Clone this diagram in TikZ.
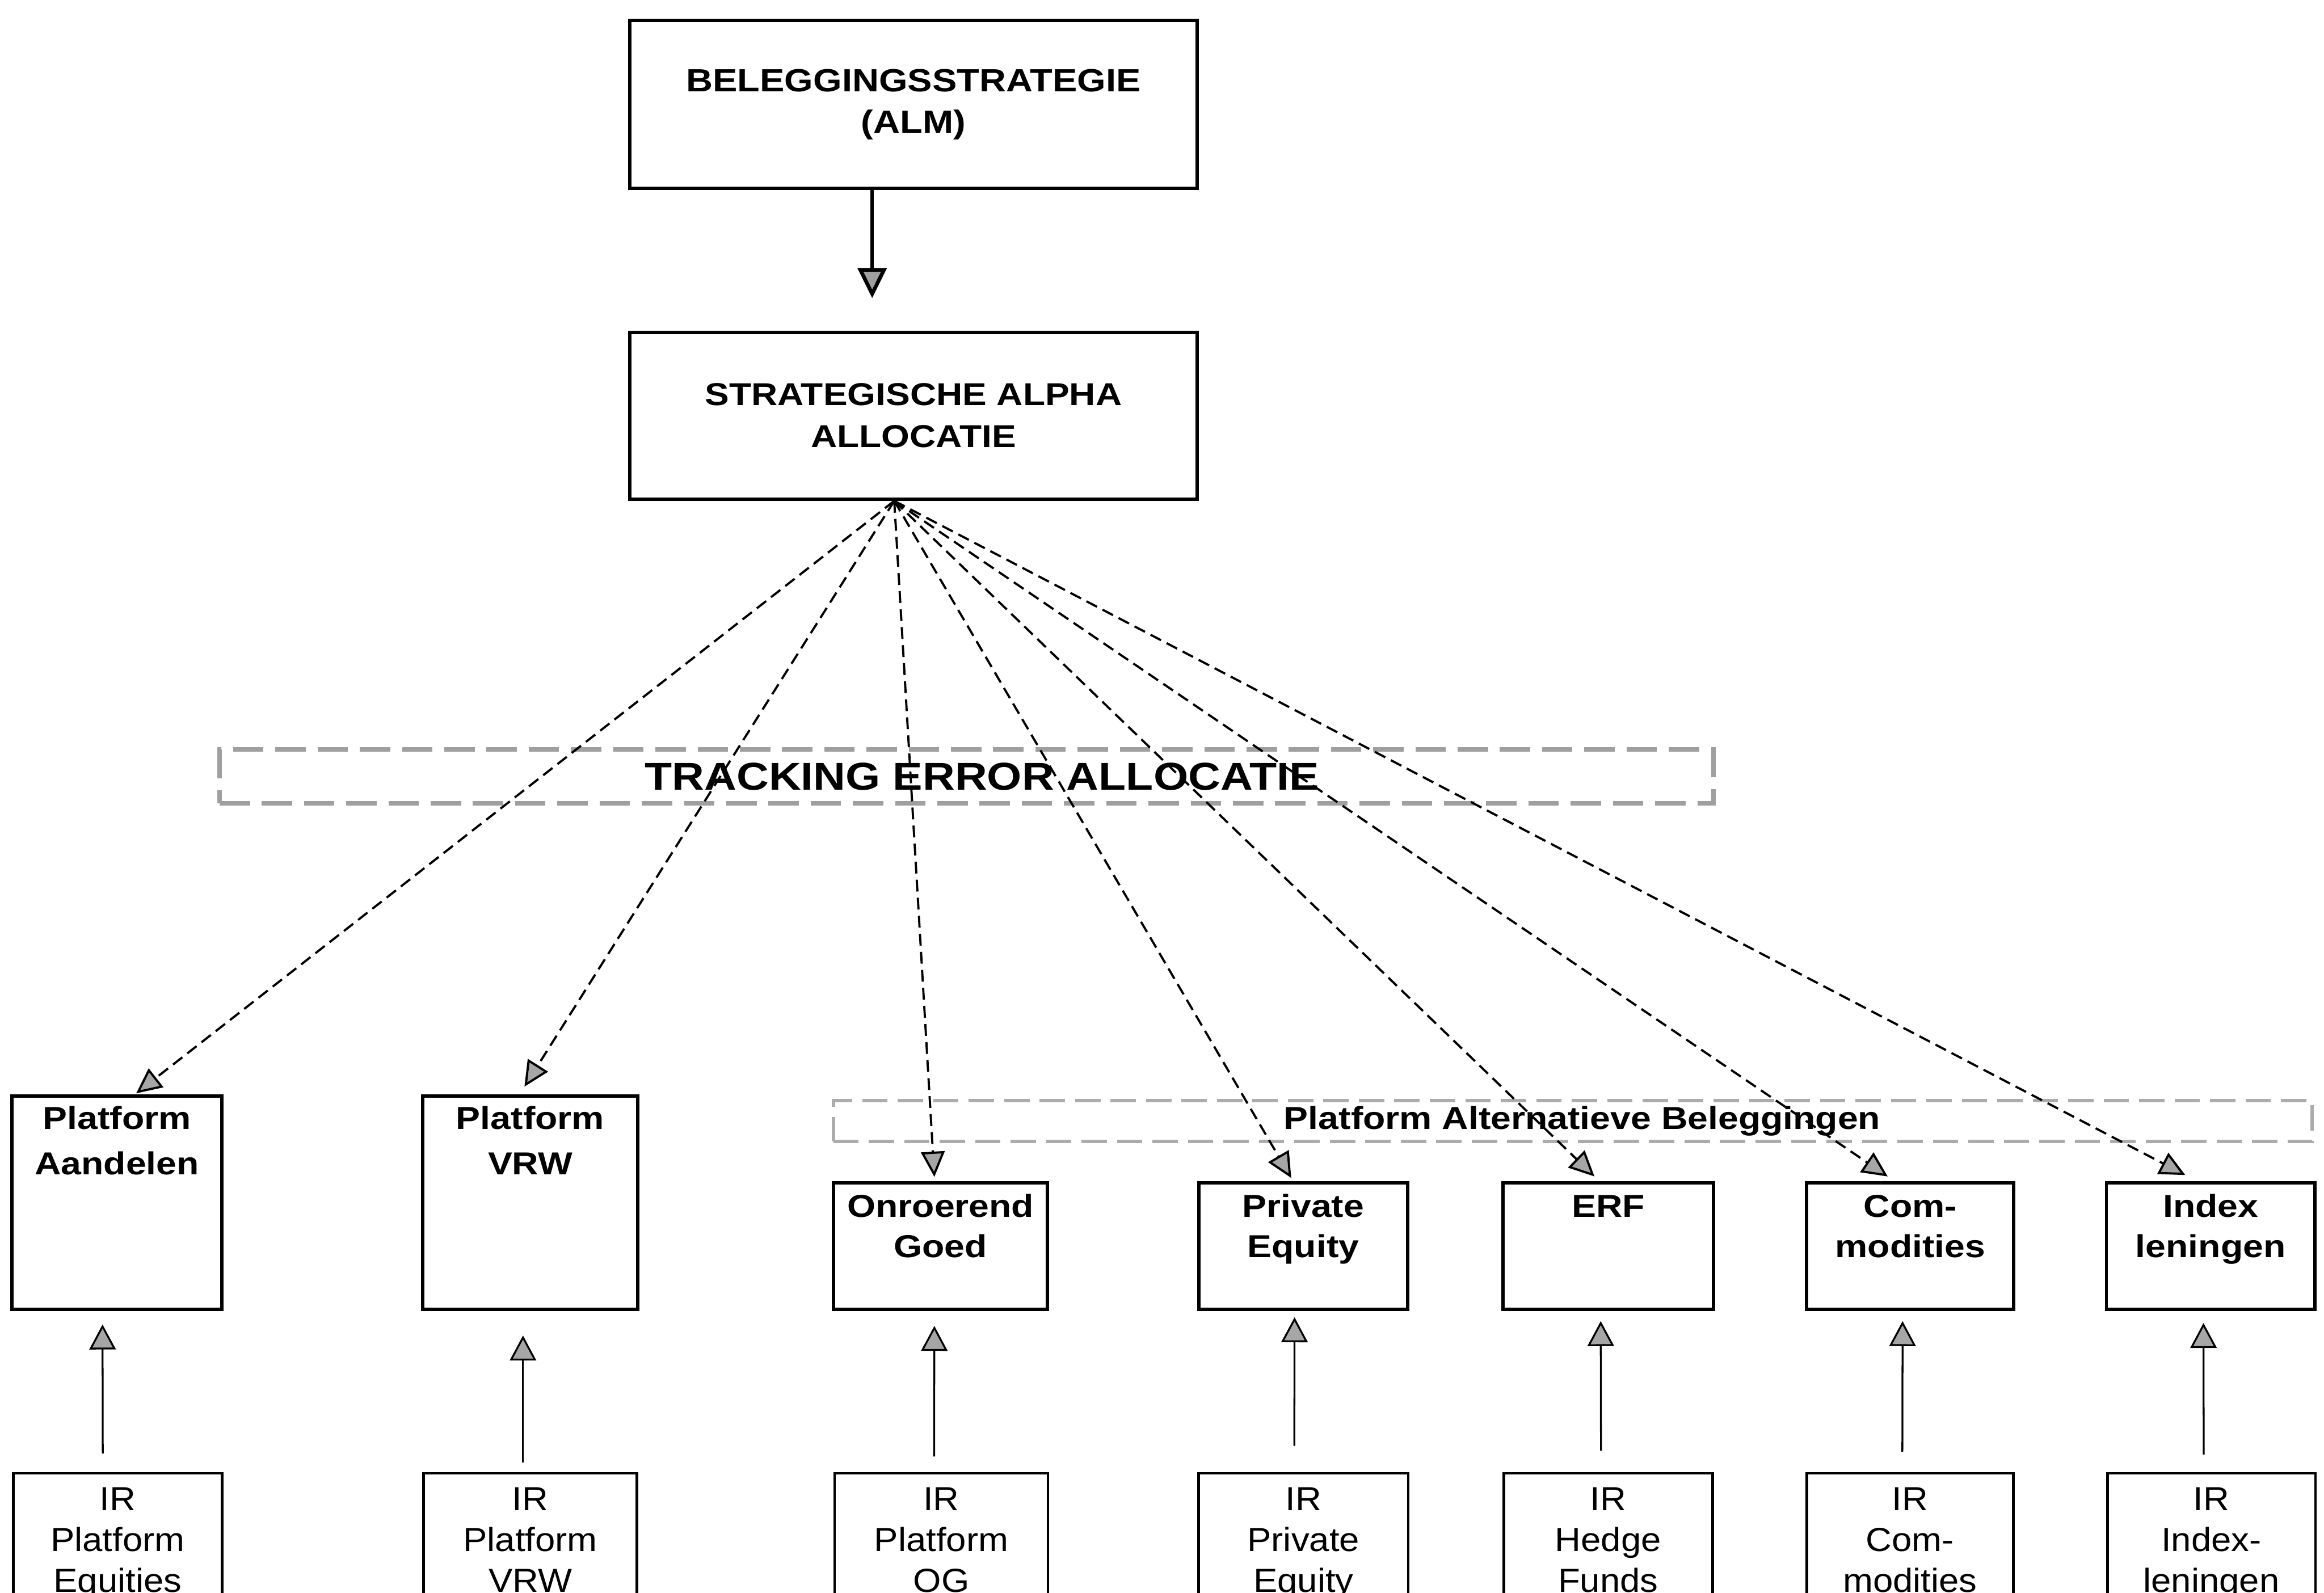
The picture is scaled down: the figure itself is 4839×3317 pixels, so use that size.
\documentclass[tikz,border=0pt]{standalone}
\usepackage{fontspec}
\setmainfont{Liberation Sans}
\newfontfamily\fbold{Liberation Sans}[FakeStretch=1.15]
\newfontfamily\freg{Liberation Sans}[FakeStretch=1.08]
\usetikzlibrary{arrows.meta,calc}
\newcommand{\topbox}[5]{\parbox[c][#2][t]{#1}{\centering#3\rule{0pt}{#4}#5\par}}
\newcommand{\fplat}{\fbold\bfseries\fontsize{18.8pt}{26.7pt}\selectfont}
\newcommand{\falt}{\fbold\bfseries\fontsize{18.8pt}{23.6pt}\selectfont}
\newcommand{\fir}{\freg\fontsize{19.75pt}{24.2pt}\selectfont}
\tikzset{
  box/.style={draw, line width=2pt, inner sep=0pt, outer sep=0pt},
  irbox/.style={draw, line width=1.6pt, inner sep=0pt, outer sep=0pt},
  tebox/.style={draw=gray!75, line width=2.8pt, dash pattern=on 18pt off 7pt, inner sep=0pt},
  altbox/.style={draw=gray!65, line width=2pt, dash pattern=on 15pt off 6pt, inner sep=0pt},
  uparr/.style={line width=1.1pt, -{Triangle[length=14.8pt,width=15.6pt,fill=gray!70]}},
  dasharr/.style={line width=1.3pt, dash pattern=on 7pt off 3.7pt, -{Triangle[length=15pt,width=14pt,fill=gray!70]}},
  toparr/.style={line width=2.2pt, -{Triangle[length=17.9pt,width=17pt,fill=gray!75]}}
}
\begin{document}
\begin{tikzpicture}[x=0.01cm,y=-0.01cm]
\useasboundingbox (0,0) rectangle (4839,3317);
% top boxes
\node[box, minimum width=11.8cm, minimum height=3.49cm, align=center,
      font=\fbold\bfseries\fontsize{19pt}{24.75pt}\selectfont] (s1) at (1902,217.5) {BELEGGINGSSTRATEGIE\\(ALM)};
\node[box, minimum width=11.8cm, minimum height=3.47cm, align=center,
      font=\fbold\bfseries\fontsize{18.7pt}{25pt}\selectfont] (s2) at (1902,865.5) {STRATEGISCHE ALPHA\\ALLOCATIE};
% tracking error
\node[tebox, minimum width=31.09cm, minimum height=1.12cm,
      font=\fbold\bfseries\fontsize{23pt}{28pt}\selectfont] (te) at (2012.5,1617) {\hspace*{0.64cm}TRACKING ERROR ALLOCATIE};
% platform alternatieve
\node[altbox, minimum width=30.77cm, minimum height=0.85cm,
      font=\fbold\bfseries\fontsize{18.8pt}{22pt}\selectfont] (alt) at (3274.5,2334.5) {\hspace*{0.4cm}Platform Alternatieve Beleggingen};
% platform boxes
\node[box] (pa) at (243.5,2505) {\topbox{4.37cm}{4.44cm}{\fplat}{0.69cm}{Platform\\Aandelen}};
\node[box] (pv) at (1104,2505) {\topbox{4.48cm}{4.44cm}{\fplat}{0.69cm}{Platform\\VRW}};
\node[box] (og) at (1958.5,2595) {\topbox{4.45cm}{2.64cm}{\falt}{0.72cm}{Onroerend\\Goed}};
\node[box] (pe) at (2713.5,2595) {\topbox{4.35cm}{2.64cm}{\falt}{0.72cm}{Private\\Equity}};
\node[box] (erf) at (3349,2595) {\topbox{4.38cm}{2.64cm}{\falt}{0.72cm}{ERF}};
\node[box] (com) at (3977.5,2595) {\topbox{4.31cm}{2.64cm}{\falt}{0.72cm}{Com-\\modities}};
\node[box] (idx) at (4603,2595) {\topbox{4.34cm}{2.64cm}{\falt}{0.72cm}{Index\\leningen}};
% IR boxes
\node[irbox] (ie) at (245,3248) {\topbox{4.34cm}{3.6cm}{\fir}{0.77cm}{IR\\Platform\\Equities}};
\node[irbox] (iv) at (1104,3248) {\topbox{4.44cm}{3.6cm}{\fir}{0.77cm}{IR\\Platform\\VRW}};
\node[irbox] (iog) at (1960,3248) {\topbox{4.44cm}{3.6cm}{\fir}{0.77cm}{IR\\Platform\\OG}};
\node[irbox] (ipe) at (2714,3248) {\topbox{4.36cm}{3.6cm}{\fir}{0.77cm}{IR\\Private\\Equity}};
\node[irbox] (ihf) at (3348.5,3248) {\topbox{4.35cm}{3.6cm}{\fir}{0.77cm}{IR\\Hedge\\Funds}};
\node[irbox] (icom) at (3977,3248) {\topbox{4.30cm}{3.6cm}{\fir}{0.77cm}{IR\\Com-\\modities}};
\node[irbox] (iidx) at (4604.5,3248) {\topbox{4.33cm}{3.6cm}{\fir}{0.77cm}{IR\\Index-\\leningen}};
% top arrow
\draw[toparr] ($(s1.south)+(-86,0)$) -- ($(s2.north)+(-86,-71)$);
% dashed allocation arrows
\coordinate (o) at ($(s2.south)+(-40,4)$);
\draw[dasharr] (o) -- ($(pa.north)+(40,-6)$);
\draw[dasharr] (o) -- ($(pv.north)+(-12,-20)$);
\draw[dasharr] (o) -- ($(og.north)+(-13,-12)$);
\draw[dasharr] (o) -- ($(pe.north)+(-25,-10)$);
\draw[dasharr] (o) -- ($(erf.north)+(-29,-13)$);
\draw[dasharr] (o) -- ($(com.north)+(-47,-13)$);
\draw[dasharr] (o) -- ($(idx.north)+(-53,-16)$);
% IR arrows
\draw[uparr] ($(ie.north)+(-31,-41)$) -- ($(pa.south)+(-30,31)$);
\draw[uparr] ($(iv.north)+(-15,-22)$) -- ($(pv.south)+(-15,54)$);
\draw[uparr] ($(iog.north)+(-15,-35)$) -- ($(og.south)+(-13,34)$);
\draw[uparr] ($(ipe.north)+(-19,-57)$) -- ($(pe.south)+(-18,16)$);
\draw[uparr] ($(ihf.north)+(-15,-47)$) -- ($(erf.south)+(-16,24)$);
\draw[uparr] ($(icom.north)+(-16,-45)$) -- ($(com.south)+(-16,24)$);
\draw[uparr] ($(iidx.north)+(-16,-39)$) -- ($(idx.south)+(-15,28)$);
\end{tikzpicture}
\end{document}
